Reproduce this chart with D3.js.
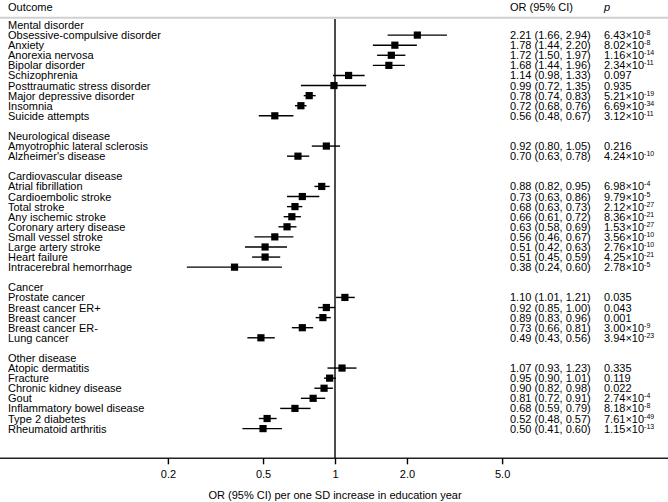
<!DOCTYPE html>
<html>
<head>
<meta charset="utf-8">
<script src="https://cdn.jsdelivr.net/npm/d3@7"></script>
<style>
  body { margin: 0; background: #fff; }
  svg text { font-family: "Liberation Sans", Arial, sans-serif; fill: #000; }
</style>
</head>
<body>
<script>
// groups of outcomes, in drawing order
var groups = ["Mental disorder", "Neurological disease", "Cardiovascular disease", "Cancer", "Other disease"];

var outcomes = [
  ["Obsessive-compulsive disorder", "Anxiety", "Anorexia nervosa", "Bipolar disorder", "Schizophrenia",
   "Posttraumatic stress disorder", "Major depressive disorder", "Insomnia", "Suicide attempts"],
  ["Amyotrophic lateral sclerosis", "Alzheimer's disease"],
  ["Atrial fibrillation", "Cardioembolic stroke", "Total stroke", "Any ischemic stroke", "Coronary artery disease",
   "Small vessel stroke", "Large artery stroke", "Heart failure", "Intracerebral hemorrhage"],
  ["Prostate cancer", "Breast cancer ER+", "Breast cancer", "Breast cancer ER-", "Lung cancer"],
  ["Atopic dermatitis", "Fracture", "Chronic kidney disease", "Gout", "Inflammatory bowel disease",
   "Type 2 diabetes", "Rheumatoid arthritis"]
];

var or = [
  [2.21, 1.78, 1.72, 1.68, 1.14, 0.99, 0.78, 0.72, 0.56],
  [0.92, 0.70],
  [0.88, 0.73, 0.68, 0.66, 0.63, 0.56, 0.51, 0.51, 0.38],
  [1.10, 0.92, 0.89, 0.73, 0.49],
  [1.07, 0.95, 0.90, 0.81, 0.68, 0.52, 0.50]
];
var lower = [
  [1.66, 1.44, 1.50, 1.44, 0.98, 0.72, 0.74, 0.68, 0.48],
  [0.80, 0.63],
  [0.82, 0.63, 0.63, 0.61, 0.58, 0.46, 0.42, 0.45, 0.24],
  [1.01, 0.85, 0.83, 0.66, 0.43],
  [0.93, 0.90, 0.82, 0.72, 0.59, 0.48, 0.41]
];
var upper = [
  [2.94, 2.20, 1.97, 1.96, 1.33, 1.35, 0.83, 0.76, 0.67],
  [1.05, 0.78],
  [0.95, 0.86, 0.73, 0.72, 0.69, 0.67, 0.63, 0.59, 0.60],
  [1.21, 1.00, 0.96, 0.81, 0.56],
  [1.23, 1.01, 0.98, 0.91, 0.79, 0.57, 0.60]
];
// p values: [mantissa, exponent] or plain string
var pvals = [
  [["6.43", "-8"], ["8.02", "-8"], ["1.16", "-14"], ["2.34", "-11"], "0.097", "0.935",
   ["5.21", "-19"], ["6.69", "-34"], ["3.12", "-11"]],
  ["0.216", ["4.24", "-10"]],
  [["6.98", "-4"], ["9.79", "-5"], ["2.12", "-27"], ["8.36", "-21"], ["1.53", "-27"],
   ["3.56", "-10"], ["2.76", "-10"], ["4.25", "-21"], ["2.78", "-5"]],
  ["0.035", "0.043", "0.001", ["3.00", "-9"], ["3.94", "-23"]],
  ["0.335", "0.119", "0.022", ["2.74", "-4"], ["8.18", "-8"], ["7.61", "-49"], ["1.15", "-13"]]
];

var tickVals = [0.2, 0.5, 1, 2, 5];
var tickLabels = ["0.2", "0.5", "1", "2.0", "5.0"];

var width = 668, height = 502;
var rowH = 10.09, top0 = 25;

// flatten into rows (header, items, blank)
var rows = [];
groups.forEach(function(g, gi) {
  rows.push({type: "head", label: g});
  outcomes[gi].forEach(function(o, i) {
    rows.push({type: "item", label: o, or: or[gi][i], lo: lower[gi][i], hi: upper[gi][i], p: pvals[gi][i]});
  });
  if (gi < groups.length - 1) rows.push({type: "blank"});
});

var svg = d3.select("body").append("svg")
  .attr("width", width)
  .attr("height", height);

var x = d3.scaleLog().domain([0.2, 5]).range([167.9, 502.1]);
var y = function(i) { return top0 + i * rowH; };

var fmt = function(v) { return v.toFixed(2); };

// header
svg.append("text").attr("x", 8).attr("y", 11).style("font-size", "11px").text("Outcome");
svg.append("text").attr("x", 510).attr("y", 11).style("font-size", "11px").text("OR (95% CI)");
svg.append("text").attr("x", 604).attr("y", 11).style("font-size", "11px").style("font-style", "italic").text("p");
svg.append("line")
  .attr("x1", 0).attr("x2", width).attr("y1", 17.8).attr("y2", 17.8)
  .attr("stroke", "#d0d0d0").attr("stroke-width", 2);

// reference line at OR = 1
svg.append("line")
  .attr("x1", x(1)).attr("x2", x(1)).attr("y1", 19).attr("y2", 458)
  .attr("stroke", "#000").attr("stroke-width", 1.4);

var row = svg.selectAll("g.row")
  .data(rows)
  .enter().append("g")
  .attr("class", "row")
  .attr("transform", function(d, i) { return "translate(0," + y(i) + ")"; });

row.filter(function(d) { return d.type != "blank"; })
  .append("text")
  .attr("x", 8).attr("y", 4)
  .style("font-size", "11px")
  .text(function(d) { return d.label; });

var items = row.filter(function(d) { return d.type == "item"; });

items.append("line")
  .attr("x1", function(d) { return x(d.lo); })
  .attr("x2", function(d) { return x(d.hi); })
  .attr("stroke", "#000").attr("stroke-width", 1.4);

items.append("rect")
  .attr("x", function(d) { return x(d.or) - 3.6; })
  .attr("y", -3.6)
  .attr("width", 7.2).attr("height", 7.2)
  .attr("fill", "#000");

items.append("text")
  .attr("x", 510).attr("y", 4)
  .style("font-size", "11px")
  .text(function(d) { return fmt(d.or) + " (" + fmt(d.lo) + ", " + fmt(d.hi) + ")"; });

var pt = items.append("text")
  .attr("x", 604).attr("y", 4)
  .style("font-size", "11px");
pt.each(function(d) {
  var t = d3.select(this);
  if (typeof d.p == "string") {
    t.text(d.p);
  } else {
    t.append("tspan").text(d.p[0] + "\u00d710");
    t.append("tspan").attr("dy", -4).style("font-size", "7px").text(d.p[1]);
  }
});

// x axis
svg.append("line")
  .attr("x1", 0).attr("x2", width).attr("y1", 458.3).attr("y2", 458.3)
  .attr("stroke", "#222").attr("stroke-width", 1.4);

var axis = svg.append("g")
  .attr("transform", "translate(0,458.3)")
  .call(d3.axisBottom(x)
    .tickValues(tickVals)
    .tickSize(6)
    .tickPadding(6)
    .tickFormat(function(d, i) { return tickLabels[i]; }));
axis.select(".domain").remove();
axis.selectAll(".tick line").attr("stroke", "#000").attr("stroke-width", 1.4);
axis.selectAll(".tick text")
  .style("font-family", "Liberation Sans, Arial, sans-serif")
  .style("font-size", "11px")
  .attr("fill", "#000");

svg.append("text")
  .attr("x", x(1)).attr("y", 499)
  .attr("text-anchor", "middle")
  .style("font-size", "11px")
  .text("OR (95% CI) per one SD increase in education year");
</script>
</body>
</html>
